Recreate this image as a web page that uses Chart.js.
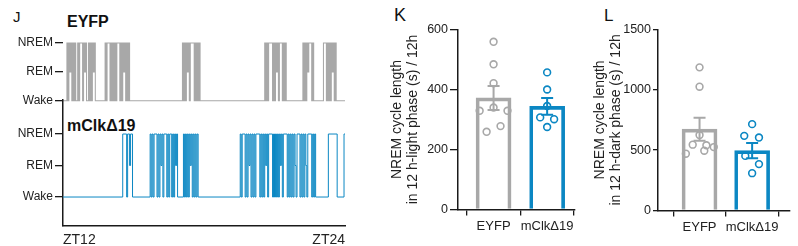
<!DOCTYPE html>
<html><head><meta charset="utf-8">
<script src="https://cdn.jsdelivr.net/npm/chart.js@4.4.0/dist/chart.umd.min.js"></script>
<style>
html,body{margin:0;padding:0;background:#fff;width:798px;height:246px;overflow:hidden;font-family:"Liberation Sans",Arial,sans-serif;}
canvas{position:absolute;}
.lbl{position:absolute;line-height:1;white-space:nowrap;color:#111;}
</style></head><body>
<div class="lbl" style="left:13px;top:9px;font-size:15px">J</div>
<div class="lbl" style="left:67px;top:13.5px;font-size:16px;font-weight:bold">EYFP</div>
<div class="lbl" style="left:67px;top:117.5px;font-size:16px;font-weight:bold">mClkΔ19</div>
<div class="lbl" style="left:394px;top:6px;font-size:18px">K</div>
<div class="lbl" style="left:604px;top:6.5px;font-size:17px">L</div>
<canvas id="j1" width="355" height="110" style="left:0;top:0;width:355px;height:110px"></canvas>
<canvas id="j2" width="355" height="156" style="left:0;top:90px;width:355px;height:156px"></canvas>
<canvas id="k" width="215" height="246" style="left:370px;top:0;width:215px;height:246px"></canvas>
<canvas id="l" width="208" height="246" style="left:590px;top:0;width:208px;height:246px"></canvas>
<script>
// ---------- data ----------
const hourLabels = ['ZT12', 'ZT24'];
const stateLabels = ['Wake', 'REM', 'NREM'];
const epochMinutes = 2.5;
// hypnogram epochs (W = wake, R = REM, N = NREM); "W53" = 53 wake epochs
const eyfpEpochs = ['W4','NWNRNWNWNW','W1','NWNNNWNRNW','W1','NWNWNRNW','W9','NWNNNWNWN','W1',
  'NWNNNWNWNRNWNWNW','W53','NWNWNRNWNNNNWNWNWN','W66','NWNWNNNNWNWNRNWNNNWNWN','W17',
  'NWNWNRNNNWNW','W9','NNNWNWNWNRNWNW','W8'];
const clkEpochs = ['W61','NNNNWNNRNN','W18','NWNWNNNWNWNRNWNNNWNWNNWNWNRNW','W5','NWNWNWNRNWNWNWN','W43',
  'NWNNNWNWNR','NWNWNWNNNN','WNWNWNRNWN','NNNWNWNWNW','NRNWNNNNWN','WNWNWNRWNN','NWNWNWNRWN','NNNWNWN',
  'W13','N9','W7','N1'];

const groups = ['EYFP', 'mClkΔ19'];
const lightMean = [372, 344];
const lightSem = [40, 28];
const lightEyfp = [559, 484, 421, 340, 329, 329, 278, 259];
const lightEyfpJitter = [0, 0, 0, 0, -0.26, 0.26, 0.13, -0.13];
const lightClk = [457, 400, 345, 307, 301, 275];
const lightClkJitter = [0, 0, 0, -0.13, 0.13, 0];

const darkMean = [673, 496];
const darkSem = [95, 63];
const darkEyfp = [1185, 1025, 625, 545, 540, 525, 470, 495];
const darkEyfpJitter = [0, 0, 0, -0.13, 0.13, 0.27, -0.26, 0.09];
const darkClk = [715, 618, 604, 452, 384, 309];
const darkClkJitter = [0, -0.15, 0.13, -0.13, 0.13, 0];

// ---------- styling ----------
const GRAY = '#a8a8a8';
const BLUE = '#0b87c3';
const INK = '#1a1a1a';
Chart.defaults.font.family = '"Liberation Sans", Arial, sans-serif';
Chart.defaults.color = '#222';
Chart.defaults.animation = false;

function expand(tokens) {
  let s = '';
  tokens.forEach(t => { const m = t.match(/^([WRN])(\d+)$/); s += m ? m[1].repeat(+m[2]) : t; });
  return s;
}
const stateIndex = { W: 0, R: 1, N: 2 };
function toSteps(str) {
  const pts = []; let prev = null;
  for (let i = 0; i < str.length; i++) {
    const v = stateIndex[str[i]];
    if (v !== prev) { pts.push({ x: i * epochMinutes, y: v }); prev = v; }
  }
  pts.push({ x: str.length * epochMinutes, y: prev });
  return pts;
}
const noPlug = { legend: { display: false }, tooltip: { enabled: false } };

function hypnoYAxis(min, max, border) {
  return {
    min, max,
    afterFit: s => { s.width = 63; },
    afterBuildTicks: s => { s.ticks = stateLabels.map((_, i) => ({ value: i })); },
    ticks: { callback: v => stateLabels[v], font: { size: 12 }, color: '#222', padding: 2 },
    grid: { drawOnChartArea: false, tickLength: 8, color: INK, lineWidth: 1.3 },
    border: { display: border, color: INK, width: 1.5 }
  };
}

new Chart(document.getElementById('j1'), {
  type: 'line',
  data: { datasets: [{ data: toSteps(expand(eyfpEpochs)), stepped: 'before', borderColor: GRAY, borderWidth: 1.05, pointRadius: 0, clip: false }] },
  options: {
    responsive: false, plugins: noPlug,
    layout: { padding: { top: 43, right: 10, bottom: 6, left: 0 } },
    scales: { x: { type: 'linear', min: 0, max: 720, display: false }, y: hypnoYAxis(0, 2, false) }
  }
});

new Chart(document.getElementById('j2'), {
  type: 'line',
  data: { datasets: [{ data: toSteps(expand(clkEpochs)), stepped: 'before', borderColor: BLUE, borderWidth: 1, pointRadius: 0, clip: false }] },
  options: {
    responsive: false, plugins: noPlug,
    layout: { padding: { top: 10, right: 10, bottom: 0, left: 0 } },
    scales: {
      x: {
        type: 'linear', min: 0, max: 720,
        afterFit: s => { s.height = 20; },
        afterBuildTicks: s => { s.ticks = [{ value: 0 }, { value: 720 }]; },
        ticks: { callback: v => hourLabels[v === 0 ? 0 : 1], align: 'inner', autoSkip: false, maxRotation: 0, font: { size: 14 }, color: '#222', padding: 6 },
        grid: { drawOnChartArea: false, drawTicks: false },
        border: { color: INK, width: 1.5 }
      },
      y: hypnoYAxis(-0.92, 3.08, true)
    }
  }
});

const errorBars = {
  id: 'errorBars',
  afterDatasetsDraw(chart, args, o) {
    const { ctx } = chart; const x = chart.scales.x, y = chart.scales.y;
    o.means.forEach((m, i) => {
      const px = x.getPixelForValue(i);
      const top = y.getPixelForValue(m + o.sems[i]);
      const bot = y.getPixelForValue(m - o.sems[i]);
      ctx.save(); ctx.strokeStyle = o.colors[i]; ctx.lineWidth = 2;
      ctx.beginPath();
      ctx.moveTo(px, top); ctx.lineTo(px, bot);
      ctx.moveTo(px - 6, top); ctx.lineTo(px + 6, top);
      ctx.moveTo(px - 6, bot); ctx.lineTo(px + 6, bot);
      ctx.stroke(); ctx.restore();
    });
  }
};

function barPanel(id, means, sems, eyfp, eyfpJ, clk, clkJ, yMax, step, title, yWidth, titlePad, tickLen, xMin, xMax, top, bottom, rightPad) {
  const canvas = document.getElementById(id);
  new Chart(canvas, {
    type: 'bar',
    data: {
      datasets: [
        { type: 'bar', data: means.map((m, i) => ({ x: i, y: m })), borderColor: [GRAY, BLUE], backgroundColor: 'rgba(255,255,255,0)', borderWidth: 3, borderSkipped: 'bottom', barThickness: 35, order: 3 },
        { type: 'scatter', data: eyfp.map((v, i) => ({ x: eyfpJ[i], y: v })), pointRadius: 3.4, pointBorderWidth: 1.6, borderColor: GRAY, pointBackgroundColor: 'rgba(255,255,255,0)', order: 1 },
        { type: 'scatter', data: clk.map((v, i) => ({ x: 1 + clkJ[i], y: v })), pointRadius: 3.4, pointBorderWidth: 1.6, borderColor: BLUE, pointBackgroundColor: 'rgba(255,255,255,0)', order: 2 }
      ]
    },
    options: {
      responsive: false,
      plugins: Object.assign({ errorBars: { means, sems, colors: [GRAY, BLUE] } }, noPlug),
      layout: { padding: { top, right: rightPad, bottom: 0, left: 0 } },
      scales: {
        x: {
          type: 'linear', min: xMin, max: xMax, offset: false,
          afterFit: s => { s.height = canvas.height - bottom; },
          afterBuildTicks: s => { s.ticks = [{ value: 0 }, { value: 1 }]; },
          ticks: { callback: v => groups[v], autoSkip: false, maxRotation: 0, font: { size: 13 }, color: '#222', padding: 3 },
          grid: { drawOnChartArea: false, tickLength: 6, color: INK, lineWidth: 1.3 },
          border: { color: INK, width: 1.5 }
        },
        y: {
          min: 0, max: yMax,
          afterFit: s => { s.width = yWidth; },
          ticks: { stepSize: step, callback: v => String(v), font: { size: 12.5 }, color: '#222', padding: 2 },
          grid: { drawOnChartArea: false, tickLength: tickLen, color: INK, lineWidth: 1.3 },
          border: { color: INK, width: 1.5 },
          title: { display: true, text: title, font: { size: 14, lineHeight: 16 / 14 }, color: '#222', padding: { top: titlePad, bottom: 0 } }
        }
      }
    },
    plugins: [errorBars]
  });
}

barPanel('k', lightMean, lightSem, lightEyfp, lightEyfpJitter, lightClk, lightClkJitter, 600, 200,
  ['NREM cycle length', 'in 12 h-light phase (s) / 12h'], 88, 19, 8, -0.664, 1.52, 29.5, 209.5, 10);
barPanel('l', darkMean, darkSem, darkEyfp, darkEyfpJitter, darkClk, darkClkJitter, 1500, 500,
  ['NREM cycle length', 'in 12 h-dark phase (s) / 12h'], 68, 2, 5, -0.79, 1.72, 29.3, 210.5, 8);
</script>
</body></html>
